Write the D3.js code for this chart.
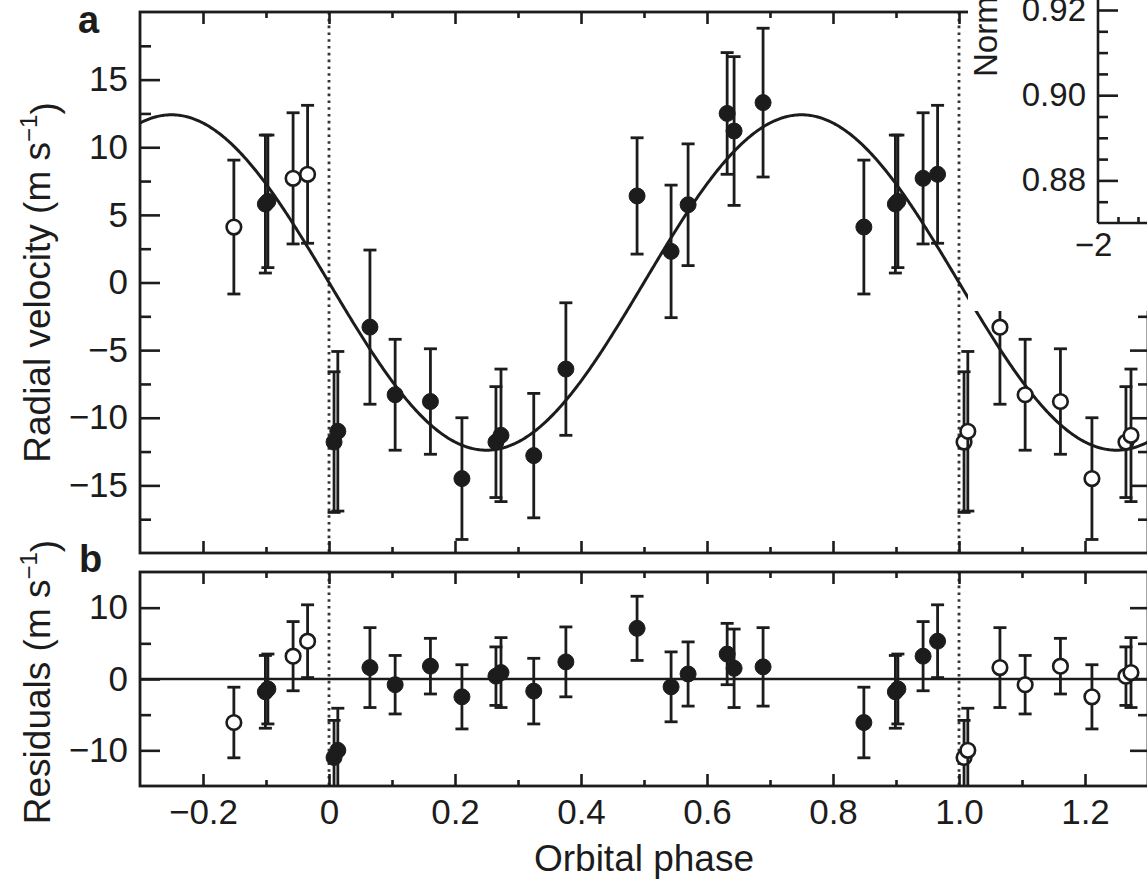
<!DOCTYPE html>
<html><head><meta charset="utf-8">
<script src="https://cdn.jsdelivr.net/npm/d3@7"></script>
<style>
body{margin:0;background:#fff}
svg{display:block}
text{font-family:"Liberation Sans", Arial, Helvetica, sans-serif; fill:#1c1c1c}
</style>
</head><body>
<svg id="chart" width="1147" height="882"></svg>
<script>
// ---- data ----
const orbitalPhase   = [0.008, 0.014, 0.065, 0.105, 0.161, 0.211, 0.265, 0.273, 0.325, 0.376, 0.489, 0.543, 0.570, 0.632, 0.643, 0.689, 0.849, 0.899, 0.903, 0.943, 0.966];
const radialVelocity = [-11.8, -11.0, -3.3, -8.3, -8.8, -14.5, -11.8, -11.3, -12.8, -6.4, 6.4, 2.3, 5.75, 12.5, 11.2, 13.3, 4.1, 5.8, 6.0, 7.7, 8.0];
const velocityError  = [5.2, 5.9, 5.7, 4.1, 3.9, 4.5, 4.1, 4.9, 4.6, 4.9, 4.3, 4.9, 4.5, 4.5, 5.5, 5.5, 4.95, 5.1, 4.9, 4.85, 5.1];
const residualValue  = [-11.0, -10.0, 1.6, -0.8, 1.8, -2.5, 0.4, 0.9, -1.7, 2.4, 7.1, -1.1, 0.7, 3.5, 1.5, 1.7, -6.1, -1.8, -1.4, 3.2, 5.3];
const residualError  = [5.2, 5.9, 5.6, 4.1, 3.9, 4.5, 4.1, 4.9, 4.6, 4.9, 4.5, 4.9, 4.5, 4.3, 5.5, 5.5, 4.95, 5.1, 4.9, 4.85, 5.1];
// original phases whose wrapped copies (phase − 1) appear as solid markers
const solidCopyPhases = [0.899, 0.903];
// Keplerian fit: semi-amplitude (m/s)
const fitAmplitude = 12.4;

const xTicksMajor = [-0.2, 0, 0.2, 0.4, 0.6, 0.8, 1.0, 1.2];
const xTicksMinor = [-0.1, 0.1, 0.3, 0.5, 0.7, 0.9, 1.1];
const rvTicksMajor = [-15, -10, -5, 0, 5, 10, 15];
const rvTicksMinor = [-17.5, -12.5, -7.5, -2.5, 2.5, 7.5, 12.5, 17.5];
const resTicksMajor = [-10, 0, 10];
const resTicksMinor = [-5, 5];
const insetTicksMajor = [0.88, 0.90, 0.92];
const insetTicksMinor = [0.875, 0.885, 0.89, 0.895, 0.905, 0.91, 0.915];
const insetXTicksMajor = [-2];
const insetXTicksMinor = [-1.75, -1.5];

// ---- layout ----
const svg = d3.select("#chart");
const INK = "#1c1c1c";
const L = 140, R = 1148;
const A = {top: 12, bottom: 553};
const B = {top: 572, bottom: 786};

const x = d3.scaleLinear().domain([-0.3, 1.3]).range([L, R]);
const yA = d3.scaleLinear().domain([-20, 20]).range([A.bottom, A.top]);
const yB = d3.scaleLinear().domain([-15, 15]).range([B.bottom, B.top]);

const defs = svg.append("defs");
defs.append("clipPath").attr("id", "clipA").append("rect")
  .attr("x", L).attr("y", A.top).attr("width", R - L).attr("height", A.bottom - A.top);
defs.append("clipPath").attr("id", "clipB").append("rect")
  .attr("x", L).attr("y", B.top).attr("width", R - L).attr("height", B.bottom - B.top);

const points = orbitalPhase.map((p, i) => ({
  p, v: radialVelocity[i], e: velocityError[i], r: residualValue[i], re: residualError[i]
}));
const solid = points.map(d => ({...d, kind: "solid"}));
const copies = [];
points.forEach(d => {
  if (d.p - 1 >= -0.3) copies.push({...d, p: d.p - 1, kind: solidCopyPhases.includes(d.p) ? "solid" : "open"});
  if (d.p + 1 <= 1.3) copies.push({...d, p: d.p + 1, kind: "open"});
});
const allPts = copies.filter(d => d.kind === "open").concat(copies.filter(d => d.kind === "solid"), solid);

const fmtX = d => d === 0 ? "0" : d3.format(".1f")(d);
const fmtY = d3.format("d");

function styleAxis(g) {
  g.select(".domain").remove();
  g.selectAll(".tick line").attr("stroke", INK).attr("stroke-width", 2.6);
  g.selectAll(".tick text").attr("fill", INK).style("font-size", "35px")
    .style("font-family", '"Liberation Sans", Arial, sans-serif');
}

function panel(y, box, ticksMajor, ticksMinor, showXLabels, clipId, vKey, eKey) {
  const g = svg.append("g");
  // dotted phase lines
  [0, 1].forEach(p => g.append("line")
    .attr("x1", x(p)).attr("x2", x(p)).attr("y1", box.top).attr("y2", box.bottom)
    .attr("stroke", "#333").attr("stroke-width", 2.8).attr("stroke-dasharray", "2.6,4.2"));

  // x ticks top/bottom (inward)
  g.append("g").attr("transform", `translate(0,${box.top})`)
    .call(d3.axisTop(x).tickValues(xTicksMajor).tickSize(-12).tickFormat("")).call(styleAxis);
  g.append("g").attr("transform", `translate(0,${box.top})`)
    .call(d3.axisTop(x).tickValues(xTicksMinor).tickSize(-6).tickFormat("")).call(styleAxis);
  g.append("g").attr("transform", `translate(0,${box.bottom})`)
    .call(d3.axisBottom(x).tickValues(xTicksMajor).tickSize(-12).tickPadding(13)
      .tickFormat(showXLabels ? fmtX : "")).call(styleAxis);
  g.append("g").attr("transform", `translate(0,${box.bottom})`)
    .call(d3.axisBottom(x).tickValues(xTicksMinor).tickSize(-6).tickFormat("")).call(styleAxis);

  // y ticks left/right (inward)
  g.append("g").attr("transform", `translate(${L},0)`)
    .call(d3.axisLeft(y).tickValues(ticksMajor).tickSize(-20).tickPadding(12).tickFormat(fmtY)).call(styleAxis);
  g.append("g").attr("transform", `translate(${L},0)`)
    .call(d3.axisLeft(y).tickValues(ticksMinor).tickSize(-11).tickFormat("")).call(styleAxis);
  g.append("g").attr("transform", `translate(${R},0)`)
    .call(d3.axisRight(y).tickValues(ticksMajor).tickSize(-18).tickFormat("")).call(styleAxis);
  g.append("g").attr("transform", `translate(${R},0)`)
    .call(d3.axisRight(y).tickValues(ticksMinor).tickSize(-10).tickFormat("")).call(styleAxis);

  // data layer
  const dg = g.append("g").attr("clip-path", `url(#${clipId})`);
  const cap = 6.5;
  const pts = dg.selectAll("g.pt").data(allPts).join("g").attr("class", "pt");
  pts.append("line")
    .attr("x1", d => x(d.p)).attr("x2", d => x(d.p))
    .attr("y1", d => y(d[vKey] - d[eKey])).attr("y2", d => y(d[vKey] + d[eKey]))
    .attr("stroke", INK).attr("stroke-width", 2.8);
  pts.append("line")
    .attr("x1", d => x(d.p) - cap).attr("x2", d => x(d.p) + cap)
    .attr("y1", d => y(d[vKey] + d[eKey])).attr("y2", d => y(d[vKey] + d[eKey]))
    .attr("stroke", INK).attr("stroke-width", 2.8);
  pts.append("line")
    .attr("x1", d => x(d.p) - cap).attr("x2", d => x(d.p) + cap)
    .attr("y1", d => y(d[vKey] - d[eKey])).attr("y2", d => y(d[vKey] - d[eKey]))
    .attr("stroke", INK).attr("stroke-width", 2.8);
  pts.append("circle")
    .attr("cx", d => x(d.p)).attr("cy", d => y(d[vKey]))
    .attr("r", d => d.kind === "solid" ? 8 : 7.3)
    .attr("fill", d => d.kind === "solid" ? INK : "#fff")
    .attr("stroke", INK).attr("stroke-width", d => d.kind === "solid" ? 1 : 2.6);

  // frame
  g.append("rect").attr("x", L).attr("y", box.top).attr("width", R - L).attr("height", box.bottom - box.top)
    .attr("fill", "none").attr("stroke", INK).attr("stroke-width", 2.8);
  return {g, dg};
}

// Panel a
const pa = panel(yA, A, rvTicksMajor, rvTicksMinor, false, "clipA", "v", "e");
const curveData = d3.range(-0.3, 1.3001, 0.002);
pa.dg.insert("path", ":first-child")
  .datum(curveData)
  .attr("d", d3.line().x(p => x(p)).y(p => yA(-fitAmplitude * Math.sin(2 * Math.PI * p))))
  .attr("fill", "none").attr("stroke", INK).attr("stroke-width", 3);

// Panel b
const pb = panel(yB, B, resTicksMajor, resTicksMinor, true, "clipB", "r", "re");
pb.dg.insert("line", ":first-child")
  .attr("x1", L).attr("x2", R).attr("y1", yB(0)).attr("y2", yB(0))
  .attr("stroke", INK).attr("stroke-width", 2.6);

// Panel letters
svg.append("text").attr("x", 78).attr("y", 33).text("a")
  .style("font-size", "38px").style("font-weight", "bold");
svg.append("text").attr("x", 79).attr("y", 572).text("b")
  .style("font-size", "38px").style("font-weight", "bold");

// Axis titles
function unitLabel(sel, main) {
  sel.append("tspan").text(main + " (m s");
  sel.append("tspan").text("\u22121").attr("dy", "-0.55em").style("font-size", "24px");
  sel.append("tspan").text(")").attr("dy", "0.55em");
}
svg.append("text").attr("transform", `translate(50,${(A.top + A.bottom) / 2}) rotate(-90)`)
  .attr("text-anchor", "middle").style("font-size", "37px").call(s => unitLabel(s, "Radial velocity"));
svg.append("text").attr("transform", `translate(50,${(B.top + B.bottom) / 2 + 3}) rotate(-90)`)
  .attr("text-anchor", "middle").style("font-size", "37px").call(s => unitLabel(s, "Residuals"));
svg.append("text").attr("x", x(0.5)).attr("y", 871).attr("text-anchor", "middle")
  .style("font-size", "37px").text("Orbital phase");

// ---- inset (partially visible, top right) ----
const inset = svg.append("g");
inset.append("rect").attr("x", 968).attr("y", 0).attr("width", 190).attr("height", 311).attr("fill", "#fff");
const ix0 = 1098, iy0 = 223;
const yI = d3.scaleLinear().domain([0.87, 0.92]).range([iy0, 10]);
const xI = d3.scaleLinear().domain([-2, -1.5]).range([ix0, ix0 + 40]);
inset.append("line").attr("x1", ix0).attr("x2", ix0).attr("y1", 0).attr("y2", iy0)
  .attr("stroke", INK).attr("stroke-width", 2.6);
inset.append("line").attr("x1", ix0).attr("x2", 1160).attr("y1", iy0).attr("y2", iy0)
  .attr("stroke", INK).attr("stroke-width", 2.6);
inset.append("g").attr("transform", `translate(${ix0},0)`)
  .call(d3.axisLeft(yI).tickValues(insetTicksMajor).tickSize(-20).tickPadding(12).tickFormat(d3.format(".2f")))
  .call(styleAxis).selectAll(".tick text").style("font-size", "33px");
inset.append("g").attr("transform", `translate(${ix0},0)`)
  .call(d3.axisLeft(yI).tickValues(insetTicksMinor).tickSize(-10).tickFormat("")).call(styleAxis);
inset.append("g").attr("transform", `translate(0,${iy0})`)
  .call(d3.axisBottom(xI).tickValues(insetXTicksMinor).tickSize(-6).tickFormat("")).call(styleAxis);
inset.append("g").attr("transform", `translate(0,${iy0})`)
  .call(d3.axisBottom(xI).tickValues(insetXTicksMajor).tickSize(0).tickPadding(10).tickFormat(d3.format("d")))
  .call(styleAxis).selectAll(".tick text").style("font-size", "33px").attr("dx", "-0.15em");
inset.append("text").attr("transform", "translate(997,77) rotate(-90)")
  .style("font-size", "33px").text("Normalized flux");
</script>
</body></html>
